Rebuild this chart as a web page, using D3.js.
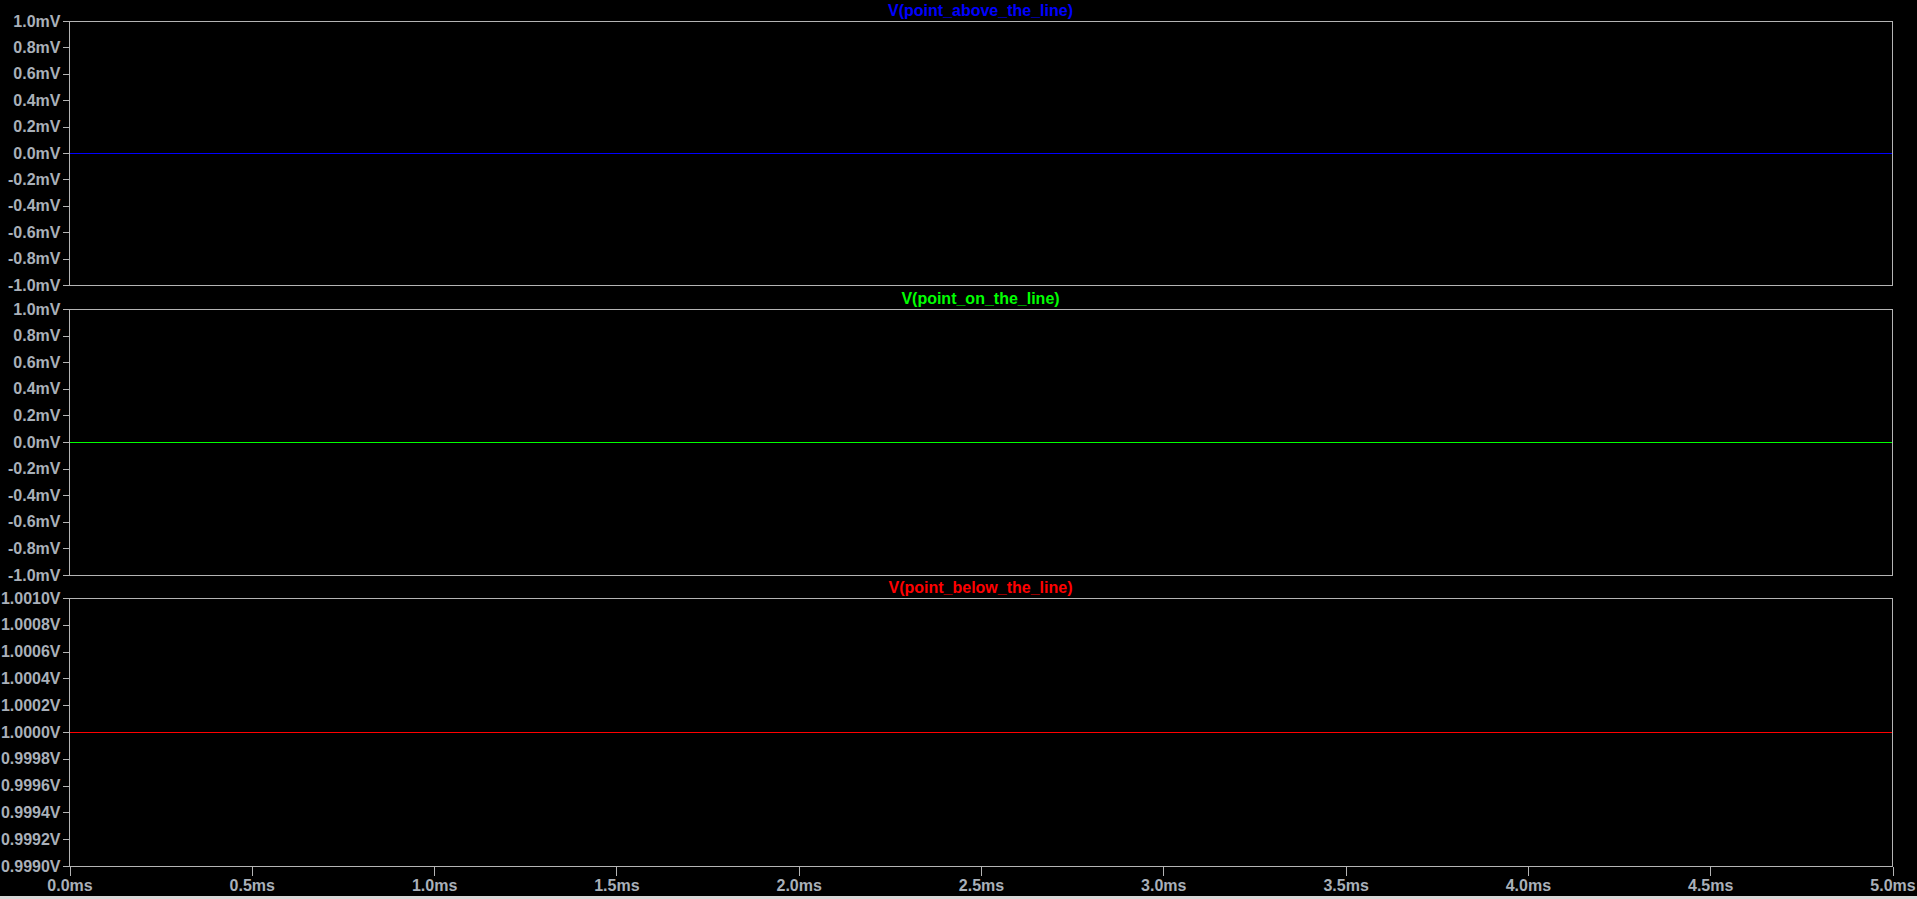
<!DOCTYPE html>
<html>
<head>
<meta charset="utf-8">
<script src="https://cdn.jsdelivr.net/npm/d3@7"></script>
<style>
  html, body { margin: 0; padding: 0; background: #000; overflow: hidden; }
  svg { display: block; }
</style>
</head>
<body>
<div id="vis"></div>
<script>
// time axis (ms)
const timeMs = [0, 5];
const xTicks = [0, 0.5, 1, 1.5, 2, 2.5, 3, 3.5, 4, 4.5, 5];

// traces
const traceNames = ["V(point_above_the_line)", "V(point_on_the_line)", "V(point_below_the_line)"];
const traceColors = ["#0000ff", "#00ff00", "#ff0000"];
const aboveValues = [0, 0];       // mV
const onValues = [0, 0];          // mV
const belowValues = [1.0, 1.0];   // V

// y ranges and tick labels per panel
const yDomains = [[-1, 1], [-1, 1], [0.999, 1.001]];
const mvTicks = [1.0, 0.8, 0.6, 0.4, 0.2, 0.0, -0.2, -0.4, -0.6, -0.8, -1.0];
const vTicks = [1.0010, 1.0008, 1.0006, 1.0004, 1.0002, 1.0000, 0.9998, 0.9996, 0.9994, 0.9992, 0.9990];

const W = 1917, H = 899;
const left = 69, right = 1892;
const panelTops = [21, 309, 598];
const panelHeights = [264, 266, 268];
const frameColor = "#b4b4b4";
const textColor = "#a9b0b9";

const svg = d3.select("#vis").append("svg")
    .attr("width", W)
    .attr("height", H)
    .style("font-family", "Arial, 'Liberation Sans', sans-serif")
    .style("font-weight", "bold");

svg.append("rect").attr("width", W).attr("height", H).attr("fill", "#000");

const x = d3.scaleLinear().domain([0, 5]).range([left, right]);

const panels = [
    { name: traceNames[0], color: traceColors[0], values: aboveValues, domain: yDomains[0], ticks: mvTicks, fmt: d => d3.format(".1f")(d).replace("−", "-") + "mV" },
    { name: traceNames[1], color: traceColors[1], values: onValues, domain: yDomains[1], ticks: mvTicks, fmt: d => d3.format(".1f")(d).replace("−", "-") + "mV" },
    { name: traceNames[2], color: traceColors[2], values: belowValues, domain: yDomains[2], ticks: vTicks, fmt: d => d3.format(".4f")(d) + "V" }
];

panels.forEach((p, i) => {
    const top = panelTops[i];
    const panelH = panelHeights[i];
    const bottom = top + panelH;
    const y = d3.scaleLinear().domain(p.domain).range([bottom, top]);
    const g = svg.append("g");

    // trace
    const line = d3.line()
        .x((d, j) => x(timeMs[j]))
        .y(d => y(d));
    g.append("path")
        .datum(p.values)
        .attr("d", line)
        .attr("fill", "none")
        .attr("stroke", p.color)
        .attr("stroke-width", 1)
        .attr("shape-rendering", "crispEdges");

    // frame
    g.append("rect")
        .attr("x", left + 0.5)
        .attr("y", top + 0.5)
        .attr("width", right - left)
        .attr("height", panelH)
        .attr("fill", "none")
        .attr("stroke", frameColor)
        .attr("stroke-width", 1)
        .attr("shape-rendering", "crispEdges");

    // y axis
    const yAxis = d3.axisLeft(y)
        .tickValues(p.ticks)
        .tickFormat(p.fmt)
        .tickSize(7)
        .tickPadding(2);
    g.append("g")
        .attr("transform", `translate(${left + 0.5},0)`)
        .call(yAxis)
        .call(a => a.select(".domain").remove())
        .call(a => a.selectAll(".tick line").attr("stroke", frameColor).attr("shape-rendering", "crispEdges"))
        .call(a => a.selectAll(".tick text")
            .attr("fill", textColor)
            .style("font-size", "16px")
            .style("font-weight", "bold")
            .style("font-family", "Arial, 'Liberation Sans', sans-serif"));

    // title
    g.append("text")
        .attr("x", (left + right) / 2)
        .attr("y", top - 5)
        .attr("text-anchor", "middle")
        .attr("fill", p.color)
        .style("font-size", "16px")
        .text(p.name);

    // x axis only under the last panel
    if (i === panels.length - 1) {
        const xAxis = d3.axisBottom(x)
            .tickValues(xTicks)
            .tickFormat(d => d3.format(".1f")(d) + "ms")
            .tickSize(9)
            .tickPadding(4);
        g.append("g")
            .attr("transform", `translate(0.5,${bottom + 0.5})`)
            .call(xAxis)
            .call(a => a.select(".domain").remove())
            .call(a => a.selectAll(".tick line").attr("stroke", frameColor).attr("shape-rendering", "crispEdges"))
            .call(a => a.selectAll(".tick text")
                .attr("fill", textColor)
                .style("font-size", "16px")
                .style("font-weight", "bold")
                .style("font-family", "Arial, 'Liberation Sans', sans-serif"));
    }
});

// window edge strip at the bottom
svg.append("rect").attr("x", 0).attr("y", 896).attr("width", W).attr("height", 3).attr("fill", "#d8d8d8");
</script>
</body>
</html>
